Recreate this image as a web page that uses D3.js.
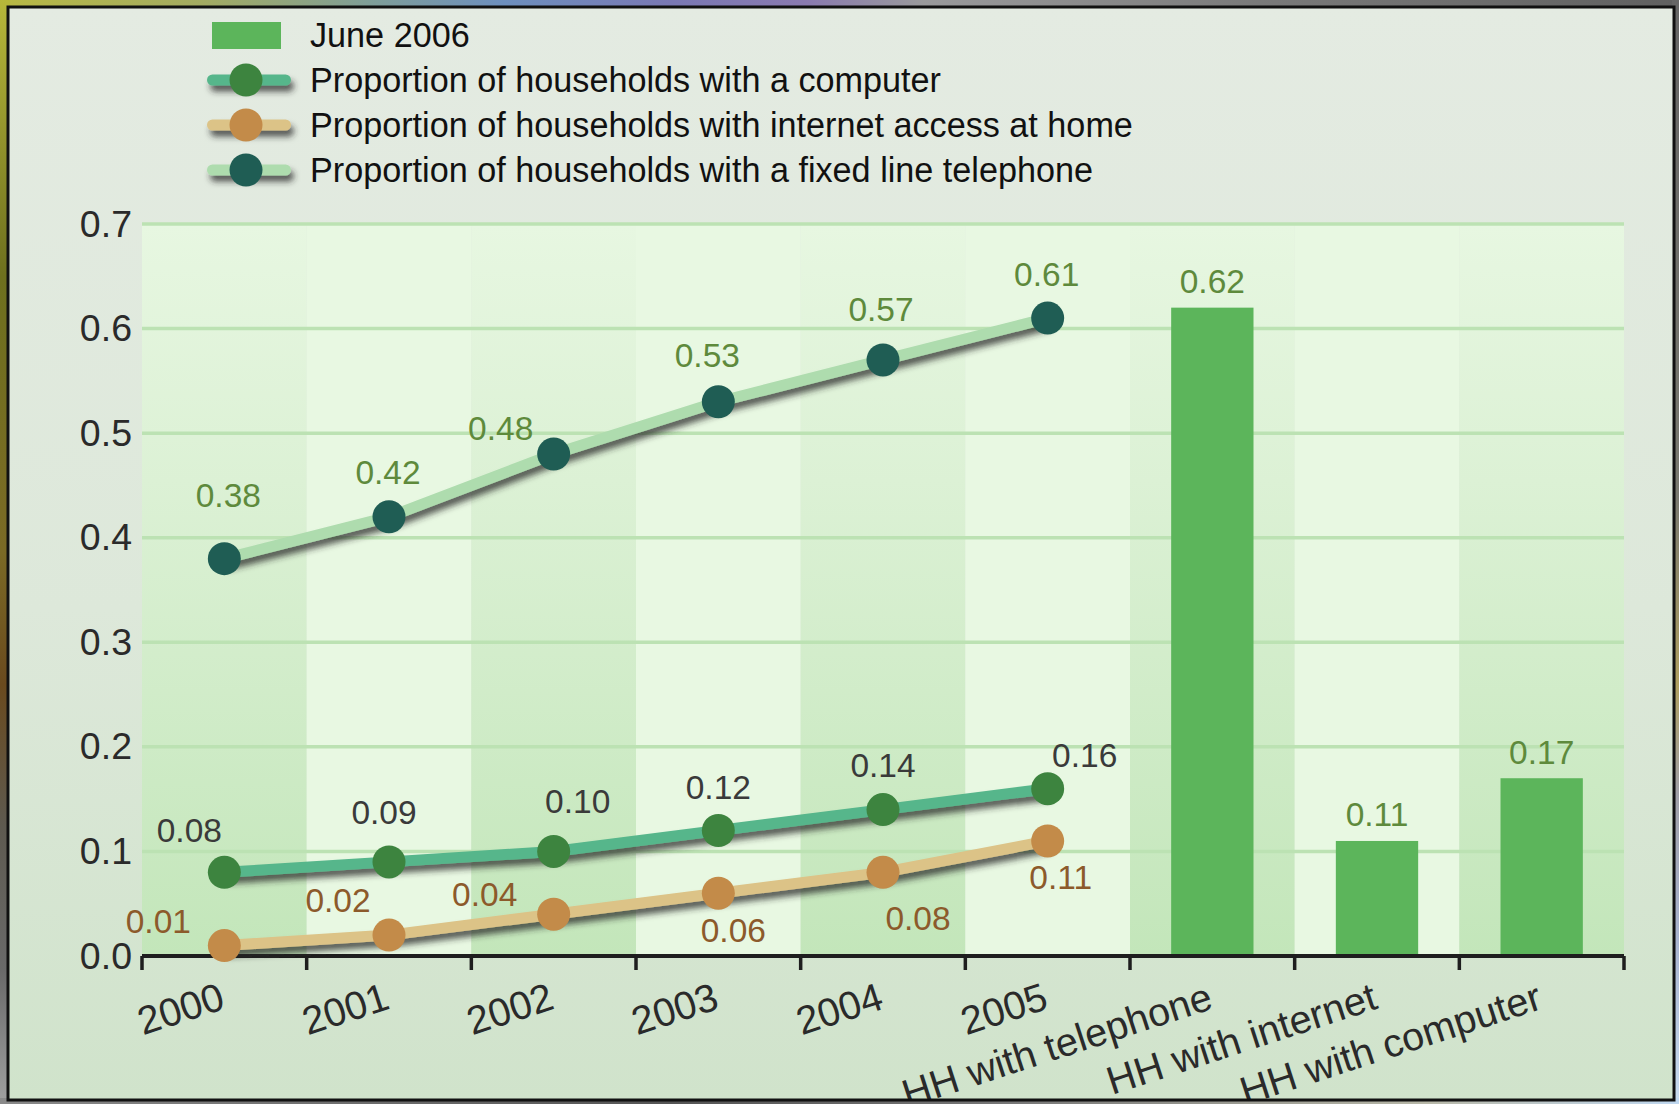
<!DOCTYPE html>
<html>
<head>
<meta charset="utf-8">
<script src="https://cdn.jsdelivr.net/npm/d3@7"></script>
<style>
  html, body { margin: 0; padding: 0; background: #777; }
  svg { display: block; }
  text { font-family: "Liberation Sans", Arial, Helvetica, sans-serif; }
</style>
</head>
<body>
<svg id="chart" width="1679" height="1104"></svg>
<script>
// ---- data -------------------------------------------------------------
const years = ["2000", "2001", "2002", "2003", "2004", "2005"];
const barCategories = ["HH with telephone", "HH with internet", "HH with computer"];
const categories = years.concat(barCategories);

const june2006 = [0.62, 0.11, 0.17];
const computerShare = [0.08, 0.09, 0.10, 0.12, 0.14, 0.16];
const internetShare = [0.01, 0.02, 0.04, 0.06, 0.08, 0.11];
const telephoneShare = [0.38, 0.42, 0.48, 0.53, 0.57, 0.61];

const yTicks = [0.0, 0.1, 0.2, 0.3, 0.4, 0.5, 0.6, 0.7];

const legendLabels = [
  "June 2006",
  "Proportion of households with a computer",
  "Proportion of households with internet access at home",
  "Proportion of households with a fixed line telephone"
];

// value-label nudges (px) so labels clear the lines
const telephoneNudge = [[4, -63], [-1, -44], [-53, -26], [-11, -46], [-2, -50], [-1, -44]];
const computerNudge = [[-35, -42], [-5, -49], [24, -50], [0, -43], [0, -44], [37, -33]];
const internetNudge = [[-66, -24], [-51, -35], [-69, -20], [15, 37], [35, 46], [13, 37]];

// ---- layout -------------------------------------------------------------
const W = 1679, H = 1104;
const panel = { x: 8, y: 7, w: 1666, h: 1093 };
const plot = { left: 142, right: 1624, top: 224, bottom: 956 };

const svg = d3.select("#chart");
const defs = svg.append("defs");

// blurred backdrop around the panel
const bgH = defs.append("linearGradient").attr("id", "bgTop").attr("x1", 0).attr("x2", 1).attr("y1", 0).attr("y2", 0);
[["0%", "#b9b944"], ["12%", "#a3ab62"], ["22%", "#7f9e98"], ["30%", "#6d8fbe"], ["40%", "#7a78b4"], ["48%", "#8a7ab0"], ["55%", "#9a9a9c"], ["75%", "#7a7a7a"], ["100%", "#606060"]]
  .forEach(([o, c]) => bgH.append("stop").attr("offset", o).attr("stop-color", c));
const bgL = defs.append("linearGradient").attr("id", "bgLeft").attr("x1", 0).attr("x2", 0).attr("y1", 0).attr("y2", 1);
[["0%", "#b7b73a"], ["25%", "#6e701e"], ["50%", "#7b6a25"], ["62%", "#6a4a1e"], ["75%", "#5e5a50"], ["88%", "#6a6a6a"], ["100%", "#a0a0a0"]]
  .forEach(([o, c]) => bgL.append("stop").attr("offset", o).attr("stop-color", c));
const bgR = defs.append("linearGradient").attr("id", "bgRight").attr("x1", 0).attr("x2", 0).attr("y1", 0).attr("y2", 1);
[["0%", "#666"], ["45%", "#7a7a70"], ["62%", "#b0a060"], ["72%", "#a0a0a8"], ["85%", "#a8b4d0"], ["100%", "#c8dcf0"]]
  .forEach(([o, c]) => bgR.append("stop").attr("offset", o).attr("stop-color", c));
const bgB = defs.append("linearGradient").attr("id", "bgBottom").attr("x1", 0).attr("x2", 1).attr("y1", 0).attr("y2", 0);
[["0%", "#8a8a8a"], ["40%", "#555"], ["60%", "#777"], ["85%", "#b8b8a8"], ["100%", "#c0d8f0"]]
  .forEach(([o, c]) => bgB.append("stop").attr("offset", o).attr("stop-color", c));

svg.append("rect").attr("width", W).attr("height", H).attr("fill", "#777");
svg.append("rect").attr("x", 0).attr("y", 0).attr("width", W).attr("height", panel.y + 2).attr("fill", "url(#bgTop)");
svg.append("rect").attr("x", 0).attr("y", 0).attr("width", panel.x + 2).attr("height", H).attr("fill", "url(#bgLeft)");
svg.append("rect").attr("x", panel.x + panel.w - 2).attr("y", 0).attr("width", W - panel.x - panel.w + 2).attr("height", H).attr("fill", "url(#bgRight)");
svg.append("rect").attr("x", 0).attr("y", panel.y + panel.h - 2).attr("width", W).attr("height", H - panel.y - panel.h + 2).attr("fill", "url(#bgBottom)");

// panel fill
const panelGrad = defs.append("linearGradient").attr("id", "panelFill").attr("x1", 0).attr("x2", 0).attr("y1", 0).attr("y2", 1);
panelGrad.append("stop").attr("offset", "0%").attr("stop-color", "#e4ebe2");
panelGrad.append("stop").attr("offset", "55%").attr("stop-color", "#dde8da");
panelGrad.append("stop").attr("offset", "100%").attr("stop-color", "#d0e3cb");

defs.append("clipPath").attr("id", "panelClip")
  .append("rect").attr("x", panel.x).attr("y", panel.y).attr("width", panel.w).attr("height", panel.h);

svg.append("rect")
  .attr("x", panel.x).attr("y", panel.y).attr("width", panel.w).attr("height", panel.h)
  .attr("fill", "url(#panelFill)");

const root = svg.append("g").attr("clip-path", "url(#panelClip)");

// band shading: alternating columns, darker ones deepen toward the baseline
const bandGrad = defs.append("linearGradient").attr("id", "bandDark").attr("x1", 0).attr("x2", 0).attr("y1", 0).attr("y2", 1);
bandGrad.append("stop").attr("offset", "0%").attr("stop-color", "#e7f7e1");
bandGrad.append("stop").attr("offset", "35%").attr("stop-color", "#dcf1d5");
bandGrad.append("stop").attr("offset", "100%").attr("stop-color", "#c3e6ba");

// line shadow (user-space region so flat strokes still render)
const shadow = defs.append("filter").attr("id", "lineShadow")
  .attr("filterUnits", "userSpaceOnUse")
  .attr("x", 0).attr("y", 0).attr("width", W).attr("height", H);
shadow.append("feDropShadow").attr("dx", 3).attr("dy", 6).attr("stdDeviation", 3)
  .attr("flood-color", "#2a2a2a").attr("flood-opacity", 0.75);

// ---- scales -------------------------------------------------------------
const x = d3.scaleBand().domain(categories).range([plot.left, plot.right]).padding(0);
const y = d3.scaleLinear().domain([0, 0.7]).range([plot.bottom, plot.top]);
const cx = c => x(c) + x.bandwidth() / 2;

// ---- plot background -----------------------------------------------------
root.append("g").selectAll("rect")
  .data(categories)
  .join("rect")
  .attr("x", d => x(d))
  .attr("y", plot.top)
  .attr("width", x.bandwidth())
  .attr("height", plot.bottom - plot.top)
  .attr("fill", (d, i) => i % 2 === 0 ? "url(#bandDark)" : "#e8f8e2");

// gridlines
root.append("g").selectAll("line")
  .data(yTicks.filter(t => t > 0))
  .join("line")
  .attr("x1", plot.left).attr("x2", plot.right)
  .attr("y1", d => y(d)).attr("y2", d => y(d))
  .attr("stroke", "#bce2b3").attr("stroke-width", 3.5);

// ---- bars ----------------------------------------------------------------
const barW = x.bandwidth() * 0.5;
root.append("g").selectAll("rect")
  .data(barCategories.map((c, i) => ({ c, v: june2006[i] })))
  .join("rect")
  .attr("x", d => cx(d.c) - barW / 2)
  .attr("y", d => y(d.v))
  .attr("width", barW)
  .attr("height", d => y(0) - y(d.v))
  .attr("fill", "#5cb55b");

root.append("g").selectAll("text")
  .data(barCategories.map((c, i) => ({ c, v: june2006[i] })))
  .join("text")
  .attr("x", d => cx(d.c))
  .attr("y", d => y(d.v) - 26)
  .attr("text-anchor", "middle")
  .attr("dominant-baseline", "central")
  .attr("font-size", 33.5)
  .attr("fill", "#5e8a3c")
  .text(d => d3.format(".2f")(d.v));

// ---- axes ----------------------------------------------------------------
const yAxis = d3.axisLeft(y).tickValues(yTicks).tickFormat(d3.format(".1f")).tickSize(0).tickPadding(10);
const gy = root.append("g").attr("transform", `translate(${plot.left},0)`).call(yAxis);
gy.select(".domain").remove();
gy.selectAll("text").attr("font-size", 37.5).attr("fill", "#2a2a2a")
  .attr("font-family", "'Liberation Sans', Arial, sans-serif");

const gx = root.append("g").attr("transform", `translate(0,${plot.bottom})`);
gx.append("line").attr("x1", plot.left).attr("x2", plot.right)
  .attr("stroke", "#1e1e1e").attr("stroke-width", 4);
const boundaries = categories.map(c => x(c)).concat([plot.right]);
gx.selectAll("line.tick")
  .data(boundaries)
  .join("line")
  .attr("class", "tick")
  .attr("x1", d => d).attr("x2", d => d)
  .attr("y1", 0).attr("y2", 14)
  .attr("stroke", "#1e1e1e").attr("stroke-width", 3.5);
gx.selectAll("text")
  .data(categories)
  .join("text")
  .attr("transform", d => `translate(${cx(d) - 2},${39}) rotate(-18)`)
  .attr("text-anchor", "end")
  .attr("dy", "0.35em")
  .attr("font-size", 39.5)
  .attr("fill", "#2a2a2a")
  .text(d => d);

// ---- lines ----------------------------------------------------------------
const series = [
  { key: "telephone", values: telephoneShare, line: "#aedcae", dot: "#1f5d54", label: "#5e8a3c", nudge: telephoneNudge },
  { key: "computer", values: computerShare, line: "#57b68b", dot: "#3d843f", label: "#3a3a3a", nudge: computerNudge },
  { key: "internet", values: internetShare, line: "#dcc387", dot: "#c38b49", label: "#8c5a2b", nudge: internetNudge }
];

const lineGen = d3.line().x((d, i) => cx(years[i])).y(d => y(d));

series.forEach(s => {
  const g = root.append("g").attr("class", "series-" + s.key);
  g.append("path")
    .datum(s.values)
    .attr("d", lineGen)
    .attr("fill", "none")
    .attr("stroke", s.line)
    .attr("stroke-width", 11)
    .attr("stroke-linejoin", "round")
    .attr("filter", "url(#lineShadow)");
  g.selectAll("circle")
    .data(s.values)
    .join("circle")
    .attr("cx", (d, i) => cx(years[i]))
    .attr("cy", d => y(d))
    .attr("r", 16.5)
    .attr("fill", s.dot);
  g.selectAll("text")
    .data(s.values)
    .join("text")
    .attr("x", (d, i) => cx(years[i]) + s.nudge[i][0])
    .attr("y", (d, i) => y(d) + s.nudge[i][1])
    .attr("text-anchor", "middle")
    .attr("dominant-baseline", "central")
    .attr("font-size", 33.5)
    .attr("fill", s.label)
    .text(d => d3.format(".2f")(d));
});

// ---- legend ----------------------------------------------------------------
const legend = root.append("g");
const rowY = [35, 80, 125, 170];
legend.append("rect")
  .attr("x", 212).attr("y", rowY[0] - 13).attr("width", 69).attr("height", 27)
  .attr("fill", "#5cb55b");
[series[1], series[2], series[0]].forEach((s, i) => {
  const yy = rowY[i + 1];
  legend.append("rect")
    .attr("x", 207).attr("y", yy - 5.5).attr("width", 84).attr("height", 11)
    .attr("rx", 5.5)
    .attr("fill", s.line)
    .attr("filter", "url(#lineShadow)");
  legend.append("circle").attr("cx", 246).attr("cy", yy).attr("r", 16.5).attr("fill", s.dot);
});
legend.selectAll("text")
  .data(legendLabels)
  .join("text")
  .attr("x", 310)
  .attr("y", (d, i) => rowY[i])
  .attr("dominant-baseline", "central")
  .attr("font-size", 34.2)
  .attr("fill", "#111")
  .text(d => d);

// panel border
svg.append("rect")
  .attr("x", panel.x).attr("y", panel.y).attr("width", panel.w).attr("height", panel.h)
  .attr("fill", "none").attr("stroke", "#111").attr("stroke-width", 3);
</script>
</body>
</html>
